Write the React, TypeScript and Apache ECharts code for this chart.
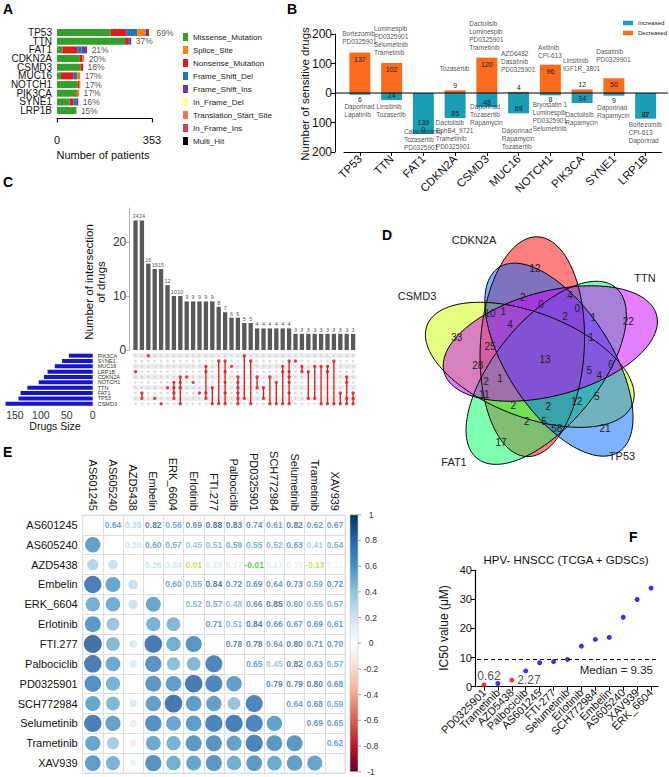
import React, { useEffect, useRef } from "react";
import * as echarts from "echarts";

const FONT = "'Liberation Sans', Arial, Helvetica, sans-serif";

// ---------- A: mutation landscape ----------
const mutGenes = ["TP53", "TTN", "FAT1", "CDKN2A", "CSMD3", "MUC16", "NOTCH1", "PIK3CA", "SYNE1", "LRP1B"];
const mutPercent = [69, 37, 21, 20, 18, 17, 17, 17, 16, 15];
const mutLegend = ["Missense_Mutation", "Splice_Site", "Nonsense_Mutation", "Frame_Shift_Del", "Frame_Shift_Ins", "In_Frame_Del", "Translation_Start_Site", "In_Frame_Ins", "Multi_Hit"];
const missenseMutation = [200, 253, 20, 85, 87, 15, 76, 72, 47, 72];
const nonsenseMutation = [57, 14, 55, 10, 10, 47, 6, 5, 15, 0];
const frameShiftDel = [41, 4, 16, 0, 0, 12, 0, 0, 12, 0];
const spliceSite = [31, 0, 0, 0, 0, 12, 5, 5, 0, 0];
const frameShiftIns = [14, 5, 21, 0, 0, 0, 0, 0, 5, 0];
const inFrameDel = [10, 0, 0, 0, 0, 0, 0, 0, 0, 0];
const translationStartSite = [0, 0, 0, 6, 0, 0, 0, 0, 0, 0];
const inFrameIns = [0, 0, 0, 0, 0, 0, 0, 0, 0, 0];
const multiHit = [0, 0, 0, 0, 0, 0, 0, 0, 0, 0];

// ---------- B: sensitive drugs per mutated gene ----------
const sensGenes = ["TP53", "TTN", "FAT1", "CDKN2A", "CSMD3", "MUC16", "NOTCH1", "PIK3CA", "SYNE1", "LRP1B"];
const decreasedDrugs = [137, 102, 0, 9, 120, 4, 96, 12, 50, 0];
const increasedDrugs = [6, 24, 139, 85, 48, 69, 8, 34, 9, 87];
const decreasedTop = [
  "Bortezomib\nPD0325901", "Luminespib\nPD0325901\nSelumetinib\nTrametinib", "", "Tozasertib",
  "Dactolisib\nLuminespib\nPD0325901\nTrametinib", "AZD6482\nDasatinib\nPD0325901", "Axitinib\nCPI-613",
  "Linsitinib\nIGF1R_3801", "Dasatinib\nPD0329901", "",
];
const increasedTop = [
  "Daporinad\nLapatinib", "Linsitinib\nTozasertib", "Cabozantinib\nTozasertib\nPD0325901",
  "Dactolisib\nEphB4_9721\nTrametinib\nPD0325901", "Daporinad\nTozasertib\nRapamycin",
  "Daporinad\nRapamycin\nTozasertib", "Bryostatin 1\nLuminespib\nPD0325901\nSelumetinib",
  "Dactolisib\nRapamycin", "Daporinad\nRapamycin", "Bortezomib\nCPI-613\nDaporinad",
];
// anchor heights (axis units) of the drug-name blocks
const decreasedNoteAt = [159, 122, 0, 67, 139, 64, 111, 67, 98, 0];
const increasedNoteAt = [-33, -33, -118, -88, -33, -115, -27, -61, -37, -96];

// ---------- C: UpSet of sensitive drug sets ----------
const upsetSets = ["PIK3CA", "SYNE1", "MUC16", "LRP1B", "CDKN2A", "NOTCH1", "TTN", "FAT1", "TP53", "CSMD3"];
const intersectCounts = [24, 24, 16, 15, 15, 12, 10, 10, 9, 9, 9, 9, 9, 8, 7, 6, 6, 5, 5, 4, 4, 4, 4, 4, 4, 3, 3, 3, 3, 3, 3, 3, 3, 3, 3];
const intersectMembers = [
  ["LRP1B"], ["FAT1", "TP53"], ["PIK3CA"], ["TP53"], ["CSMD3"], ["TTN"],
  ["NOTCH1", "TTN", "FAT1", "TP53"], ["CDKN2A", "NOTCH1", "TTN", "CSMD3"], ["CDKN2A"], ["NOTCH1"], ["FAT1"],
  ["MUC16", "LRP1B", "FAT1", "TP53"], ["TTN", "CSMD3"], ["SYNE1", "CSMD3"], ["SYNE1", "LRP1B", "NOTCH1", "FAT1", "CSMD3"],
  ["MUC16"], ["CDKN2A", "NOTCH1", "TTN", "FAT1", "TP53", "CSMD3"], ["PIK3CA", "TP53"], ["SYNE1", "CSMD3"],
  ["CDKN2A", "TTN"], ["TTN", "TP53"], ["CDKN2A", "CSMD3"], ["NOTCH1", "CSMD3"], ["MUC16", "LRP1B", "CSMD3"],
  ["SYNE1", "LRP1B", "CDKN2A", "NOTCH1", "FAT1", "CSMD3"], ["SYNE1"], ["MUC16", "LRP1B"], ["LRP1B", "TP53"],
  ["MUC16", "TP53"], ["MUC16", "CSMD3"], ["MUC16", "LRP1B", "CSMD3"], ["SYNE1", "CSMD3"], ["FAT1", "CSMD3"],
  ["CDKN2A", "NOTCH1", "TP53", "CSMD3"], ["FAT1", "TP53", "CSMD3"],
];
const sizeTicks = [0, 50, 100, 150];

// ---------- D: five-set Venn ----------
const vennSets = ["CDKN2A", "TTN", "TP53", "FAT1", "CSMD3"]; // clockwise from the top
const vennColors = ["#FF0000", "#CC00FF", "#0066FF", "#00FF66", "#CCFF00"];
const vennCounts = [12, 4, 2, 0, 0, 10, 1, 2, 1, 22, 4, 33, 1, 25, 13, 28, 5, 6, 4, 2, 1, 11, 5, 2, 2, 12, 2, 5, 58, 21, 17];

// ---------- E: drug IC50 correlation ----------
const corrDrugs = ["AS601245", "AS605240", "AZD5438", "Embelin", "ERK_6604", "Erlotinib", "FTI.277", "Palbociclib", "PD0325901", "SCH772984", "Selumetinib", "Trametinib", "XAV939"];
const corrUpper = [
  [0.64, 0.35, 0.82, 0.56, 0.69, 0.88, 0.83, 0.74, 0.61, 0.82, 0.62, 0.67],
  [0.26, 0.60, 0.57, 0.45, 0.51, 0.59, 0.55, 0.52, 0.63, 0.41, 0.54],
  [0.26, 0.24, 0.01, 0.19, 0.17, -0.01, 0.17, 0.15, -0.13, 0.11],
  [0.60, 0.55, 0.84, 0.72, 0.69, 0.64, 0.73, 0.59, 0.72],
  [0.52, 0.57, 0.48, 0.66, 0.85, 0.60, 0.55, 0.57],
  [0.71, 0.51, 0.84, 0.66, 0.67, 0.69, 0.61],
  [0.78, 0.78, 0.64, 0.80, 0.71, 0.70],
  [0.65, 0.45, 0.82, 0.63, 0.57],
  [0.79, 0.79, 0.80, 0.68],
  [0.64, 0.68, 0.59],
  [0.69, 0.65],
  [0.62],
];
const colorbarTicks = [1, 0.8, 0.6, 0.4, 0.2, 0, -0.2, -0.4, -0.6, -0.8, -1];

// ---------- F: IC50 ranking ----------
const icDrugs = ["PD0325901", "Trametinib", "AZD5438", "Palbociclib", "AS601245", "FTI-277", "Selumetinib", "Erlotinib", "SCH772984", "Embelin", "AS605240", "XAV939", "ERK_6604"];
const icValues = [0.62, 1.1, 2.27, 5.4, 8.2, 8.6, 9.35, 13.9, 16.2, 16.9, 23.8, 29.9, 33.8];
const icHighlighted = ["PD0325901", "AZD5438"];

// ---------- styling ----------
const mutColor: Record<string, string> = {
  Missense_Mutation: "#33a02c", Splice_Site: "#ff7f00", Nonsense_Mutation: "#e31a1c",
  Frame_Shift_Del: "#1f78b4", Frame_Shift_Ins: "#6a3d9a", In_Frame_Del: "#ffff99",
  Translation_Start_Site: "#f4714b", In_Frame_Ins: "#d6405a", Multi_Hit: "#000000",
};
const RDBU = ["#67001F", "#B2182B", "#D6604D", "#F4A582", "#FDDBC7", "#FFFFFF", "#D1E5F0", "#92C5DE", "#4393C3", "#2166AC", "#053061"];

function hex(c: string) {
  return [1, 3, 5].map((i) => parseInt(c.slice(i, i + 2), 16));
}
function corrColor(v: number) {
  const t = ((v + 1) / 2) * (RDBU.length - 1);
  const i = Math.min(RDBU.length - 2, Math.floor(t));
  const f = t - i;
  const a = hex(RDBU[i]);
  const b = hex(RDBU[i + 1]);
  const m = a.map((x, k) => Math.round(x + (b[k] - x) * f));
  return `rgb(${m[0]},${m[1]},${m[2]})`;
}
function numberColor(v: number) {
  if (v < 0.05) return v >= 0 ? "#bedc1e" : v > -0.05 ? "#1ecf1e" : "#a8dc40";
  return corrColor(v);
}

function textWidth(s: string, size: number) {
  const ctx = document.createElement("canvas").getContext("2d");
  if (!ctx) return s.length * size * 0.5;
  ctx.font = `${size}px ${FONT}`;
  return Math.max(...s.split("\n").map((l) => ctx.measureText(l).width));
}

function vennPolygon(k: number) {
  const C = [543.5, 357.5];
  const off = [-11.2, -10.8];
  const A = 110;
  const B = 52;
  const tilt = (3 * Math.PI) / 180;
  const th = (k * 72 * Math.PI) / 180;
  const ox = off[0] * Math.cos(th) - off[1] * Math.sin(th);
  const oy = off[0] * Math.sin(th) + off[1] * Math.cos(th);
  const ex = C[0] + ox;
  const ey = C[1] + oy;
  const r = th + tilt;
  const c = Math.cos(r);
  const s = Math.sin(r);
  const pts: number[][] = [];
  for (let i = 0; i < 160; i++) {
    const t = (i / 160) * 2 * Math.PI;
    const lx = B * Math.cos(t);
    const ly = A * Math.sin(t);
    pts.push([ex + lx * c - ly * s, ey + lx * s + ly * c]);
  }
  return pts;
}
const vennCountPos = [
  [535, 268], [570, 295], [522.7, 297.3], [541, 304.3], [577.3, 308.3], [490, 313.3], [503.3, 311.7], [565, 316.7],
  [593.3, 317.7], [628.3, 321.7], [510, 324], [456.7, 337.7], [591, 337.3], [490, 346], [545, 359.3], [477.7, 365],
  [589.3, 370], [610.7, 364.3], [599.3, 375], [486, 381.7], [500, 378.3], [484.3, 394.3], [596.7, 396], [513.3, 405],
  [548.3, 406.7], [576.7, 401.7], [526.7, 421], [544, 421.7], [556.7, 428.3], [605, 428.3], [501, 442],
];
const vennLabelPos = [[474, 240], [645, 278], [622, 456], [454, 462], [417, 296]];

function buildOption() {
  const t = (o: any = {}) => ({ fontFamily: FONT, color: "#111", ...o });
  const noAxis = { axisLine: { show: false }, axisTick: { show: false }, axisLabel: { show: false }, splitLine: { show: false } };

  // A
  const stackOrder = ["Missense_Mutation", "Nonsense_Mutation", "Frame_Shift_Del", "Splice_Site", "Frame_Shift_Ins", "In_Frame_Del", "Translation_Start_Site", "In_Frame_Ins", "Multi_Hit"];
  const mutValues: Record<string, number[]> = {
    Missense_Mutation: missenseMutation, Nonsense_Mutation: nonsenseMutation, Frame_Shift_Del: frameShiftDel,
    Splice_Site: spliceSite, Frame_Shift_Ins: frameShiftIns, In_Frame_Del: inFrameDel,
    Translation_Start_Site: translationStartSite, In_Frame_Ins: inFrameIns, Multi_Hit: multiHit,
  };
  const mutTotals = mutGenes.map((_, i) => stackOrder.reduce((s, k) => s + mutValues[k][i], 0));
  const seriesA: any[] = stackOrder.map((name) => ({
    name, type: "bar", stack: "mut", xAxisIndex: 0, yAxisIndex: 0, barWidth: 7,
    itemStyle: { color: mutColor[name] }, data: mutValues[name],
  }));
  seriesA.push({
    type: "scatter", xAxisIndex: 0, yAxisIndex: 0, symbolSize: 1, itemStyle: { color: "rgba(0,0,0,0)" },
    data: mutGenes.map((g, i) => [mutTotals[i], g]),
    label: { show: true, position: "right", distance: 4, formatter: (p: any) => `${mutPercent[p.dataIndex]}%`, ...t({ fontSize: 8.5, color: "#222" }) },
  });

  // B
  const seriesB: any[] = [
    {
      name: "Increased", type: "bar", stack: "sens", xAxisIndex: 1, yAxisIndex: 1, barWidth: 21,
      itemStyle: { color: "#1b9db8" },
      data: increasedDrugs.map((v) => ({
        value: -v,
        label: { position: v >= 20 ? "insideBottom" : "bottom", distance: v >= 100 ? 8 : 1 },
      })),
      label: { show: true, formatter: (p: any) => `${Math.abs(p.value)}`, ...t({ fontSize: 7, color: "#222" }) },
    },
    {
      name: "Decreased", type: "bar", stack: "sens", xAxisIndex: 1, yAxisIndex: 1, barWidth: 21,
      itemStyle: { color: "#fb6b1e" },
      data: decreasedDrugs.map((v) => ({
        value: v,
        label: { position: v > 20 ? "insideTop" : "top", distance: v > 20 ? 3 : 1 },
      })),
      label: { show: true, formatter: (p: any) => `${p.value}`, ...t({ fontSize: 7, color: "#222" }) },
    },
    {
      type: "scatter", xAxisIndex: 1, yAxisIndex: 1, symbolSize: 1, itemStyle: { color: "rgba(0,0,0,0)" }, z: 5,
      data: sensGenes.map((g, i) => ({
        value: [g, decreasedNoteAt[i]],
        label: { formatter: decreasedTop[i], offset: [-textWidth(decreasedTop[i], 6.5) / 2, 0] },
      })).filter((d, i) => decreasedTop[i] !== ""),
      label: { show: true, position: [0, 0], align: "left", verticalAlign: "bottom", lineHeight: 8, ...t({ fontSize: 6.5, color: "#222" }) },
    },
    {
      type: "scatter", xAxisIndex: 1, yAxisIndex: 1, symbolSize: 1, itemStyle: { color: "rgba(0,0,0,0)" }, z: 5,
      data: sensGenes.map((g, i) => ({
        value: [g, increasedNoteAt[i]],
        label: { formatter: increasedTop[i], offset: [-textWidth(increasedTop[i], 6.5) / 2, 0] },
      })),
      label: { show: true, position: [0, 0], align: "left", verticalAlign: "top", lineHeight: 8, ...t({ fontSize: 6.5, color: "#222" }) },
    },
  ];

  // C
  const colIdx = intersectCounts.map((_, i) => String(i + 1));
  const allCells: number[][] = [];
  colIdx.forEach((_, c) => upsetSets.forEach((_, r) => allCells.push([c, r])));
  const memberCells: number[][] = [];
  const memberLines: number[][] = [];
  intersectMembers.forEach((m, c) => {
    const rows = m.map((s) => upsetSets.indexOf(s)).sort((a, b) => a - b);
    rows.forEach((r) => memberCells.push([c, r]));
    if (rows.length > 1) memberLines.push([c, rows[0], rows[rows.length - 1]]);
  });
  const setSizes = upsetSets.map((s) => {
    const i = sensGenes.indexOf(s);
    return decreasedDrugs[i] + increasedDrugs[i];
  });
  const seriesC: any[] = [
    {
      type: "bar", xAxisIndex: 2, yAxisIndex: 2, barWidth: 4.3, itemStyle: { color: "#595959" }, data: intersectCounts,
      label: { show: true, position: "top", distance: 1, ...t({ fontSize: 5.5, color: "#555" }) },
    },
    { type: "scatter", xAxisIndex: 3, yAxisIndex: 3, symbolSize: 2.8, itemStyle: { color: "#d4d4d4" }, data: allCells, silent: true },
    {
      type: "custom", xAxisIndex: 3, yAxisIndex: 3, data: memberLines, z: 3,
      renderItem: (_p: any, api: any) => {
        const a = api.coord([api.value(0), api.value(1)]);
        const b = api.coord([api.value(0), api.value(2)]);
        return { type: "line", shape: { x1: a[0], y1: a[1], x2: b[0], y2: b[1] }, style: { stroke: "#e8191c", lineWidth: 1.3 } };
      },
    },
    { type: "scatter", xAxisIndex: 3, yAxisIndex: 3, symbolSize: 3.4, itemStyle: { color: "#e8191c" }, data: memberCells, z: 4 },
    { type: "bar", xAxisIndex: 4, yAxisIndex: 4, barWidth: 4, itemStyle: { color: "#1414d2" }, data: setSizes },
  ];

  // E
  const circles: any[] = [];
  const numbers: any[] = [];
  corrUpper.forEach((row, i) =>
    row.forEach((v, k) => {
      const j = i + 1 + k;
      numbers.push({ value: [j, i], label: { formatter: v.toFixed(2), color: numberColor(v) } });
      circles.push({ value: [i, j], symbolSize: 19.2 * Math.sqrt(Math.abs(v)), itemStyle: { color: corrColor(v) } });
    })
  );
  const seriesE: any[] = [
    { type: "scatter", xAxisIndex: 5, yAxisIndex: 5, data: circles },
    {
      type: "scatter", xAxisIndex: 5, yAxisIndex: 5, symbolSize: 1, itemStyle: { color: "rgba(0,0,0,0)" }, data: numbers,
      label: { show: true, position: "inside", ...t({ fontSize: 8.5, fontWeight: "bold" }) },
    },
  ];

  // F
  const sorted = [...icValues].sort((a, b) => a - b);
  const median = sorted[Math.floor(sorted.length / 2)];
  const seriesF: any[] = [
    {
      type: "scatter", xAxisIndex: 6, yAxisIndex: 6, symbolSize: 5,
      data: icDrugs.map((d, i) => {
        const hi = icHighlighted.includes(d);
        return {
          value: icValues[i],
          itemStyle: { color: hi ? "#ff0000" : "#0000ff" },
          label: hi
            ? i === 0
              ? { show: true, position: "top", distance: 0, offset: [5, 0], formatter: `${icValues[i]}`, ...t({ fontSize: 12, color: "#222" }) }
              : { show: true, position: "right", distance: 3, formatter: `${icValues[i]}`, ...t({ fontSize: 12, color: "#222" }) }
            : { show: false },
        };
      }),
      markLine: {
        silent: true, symbol: "none",
        lineStyle: { color: "#000", type: [4, 3], width: 1.2 },
        label: { show: true, position: "insideEndBottom", formatter: `Median = ${median}`, ...t({ fontSize: 11.5, color: "#222" }) },
        data: [{ yAxis: median }],
      },
    },
  ];

  const letter = (s: string, x: number, y: number) => ({
    type: "text", x, y, style: { text: s, font: `bold 14px ${FONT}`, fill: "#000", verticalAlign: "middle" },
  });
  const label = (s: string, x: number, y: number, size: number, extra: any = {}) => ({
    type: "text", x, y, ...extra,
    style: { text: s, fontFamily: FONT, fontSize: size, fill: "#111", align: "center", verticalAlign: "middle", ...(extra.style || {}) },
  });

  const graphics: any[] = [
    letter("A", 3, 9), letter("B", 287, 9), letter("C", 3, 182), letter("D", 382, 235), letter("E", 3, 452), letter("F", 629, 537),
    label("Number of patients", 103, 155, 11),
    { ...label("Number of sensitive drugs", 305, 94, 11.5), rotation: Math.PI / 2 },
    { ...label("Number of intersection\nof drugs", 95, 282, 11.5, { style: { lineHeight: 12 } }), rotation: Math.PI / 2 },
    label("Drugs Size", 55, 425.7, 10.5),
    label("HPV- HNSCC (TCGA + GDSCs)", 566, 560, 11.5),
    { ...label("IC50 value (\u03bcM)", 444, 628, 12), rotation: Math.PI / 2 },
  ];
  // Venn fills (drawn in colour order), then outlines
  const fillOrder = [0, 4, 3, 2, 1];
  fillOrder.forEach((k) =>
    graphics.push({ type: "polygon", shape: { points: vennPolygon(k) }, style: { fill: vennColors[k], opacity: 0.5 }, z: 10 })
  );
  [0, 1, 2, 3, 4].forEach((k) =>
    graphics.push({ type: "polygon", shape: { points: vennPolygon(k) }, style: { fill: "none", stroke: "#000", lineWidth: 1 }, z: 11 })
  );
  vennCounts.forEach((n, i) => graphics.push({ ...label(String(n), vennCountPos[i][0], vennCountPos[i][1], 10, { style: { fill: "#222" } }), z: 12 }));
  vennSets.forEach((s, i) => graphics.push(label(s, vennLabelPos[i][0], vennLabelPos[i][1], 11, { style: { fill: "#222" } })));

  // correlation colour bar
  const cbTop = 514.7;
  const cbH = 257;
  graphics.push({
    type: "rect", shape: { x: 350, y: cbTop, width: 8, height: cbH },
    style: {
      fill: new echarts.graphic.LinearGradient(0, 0, 0, 1, RDBU.slice().reverse().map((c, i) => ({ offset: i / (RDBU.length - 1), color: c }))),
      stroke: "#cfcfcf", lineWidth: 0.6,
    },
  });
  colorbarTicks.forEach((v) => {
    const y = cbTop + ((1 - v) / 2) * cbH;
    graphics.push({ type: "line", shape: { x1: 358, y1: y, x2: 361, y2: y }, style: { stroke: "#666", lineWidth: 0.6 } });
    graphics.push(label(String(v), 371, y, 8.5, { style: { fill: "#333" } }));
  });

  return {
    animation: false,
    backgroundColor: "#fff",
    textStyle: { fontFamily: FONT },
    legend: [
      {
        data: mutLegend, orient: "vertical", left: 183, top: 33, itemWidth: 5, itemHeight: 8, itemGap: 5,
        selectedMode: false, icon: "rect", textStyle: t({ fontSize: 8, color: "#222" }), padding: 0,
      },
      {
        data: ["Increased", "Decreased"], orient: "vertical", left: 623, top: 20, itemWidth: 10, itemHeight: 4.5, itemGap: 4,
        selectedMode: false, icon: "rect", textStyle: t({ fontSize: 6, color: "#222" }), padding: 0, itemStyle: { borderWidth: 0 },
      },
    ],
    grid: [
      { left: 57, top: 28.2, width: 95, height: 86.7 },
      { left: 344, top: 34, width: 317.5, height: 118 },
      { left: 132.3, top: 208, width: 224, height: 142 },
      { left: 132.3, top: 353, width: 224, height: 53.4 },
      { left: 4, top: 353, width: 88.7, height: 53.4 },
      { left: 82.7, top: 515, width: 262.3, height: 258, show: true, borderColor: "#dedede", borderWidth: 1, backgroundColor: "transparent" },
      { left: 477, top: 570, width: 181, height: 116.7 },
    ],
    xAxis: [
      {
        gridIndex: 0, type: "value", min: 0, max: 353, interval: 353, offset: 3.5,
        axisLine: { show: true, lineStyle: { color: "#000", width: 1.2 } },
        axisTick: { show: true, length: 4, lineStyle: { color: "#000", width: 1.2 } },
        axisLabel: t({ fontSize: 11, margin: 16 }), splitLine: { show: false },
      },
      {
        gridIndex: 1, type: "category", data: sensGenes, position: "bottom",
        axisLine: { show: true, onZero: false, lineStyle: { color: "#000", width: 1 } },
        axisTick: { show: true, alignWithLabel: true, length: 4, lineStyle: { color: "#000" } },
        axisLabel: t({ rotate: 45, fontSize: 11.5, margin: 5, interval: 0 }),
      },
      { gridIndex: 2, type: "category", data: colIdx, ...noAxis },
      { gridIndex: 3, type: "category", data: colIdx, ...noAxis },
      {
        gridIndex: 4, type: "value", inverse: true, min: 0, max: 171, interval: 50,
        axisLine: { show: false }, axisTick: { show: false }, splitLine: { show: false },
        axisLabel: t({ fontSize: 10.5, margin: 3, color: "#333", showMaxLabel: false, formatter: (v: number) => (sizeTicks.includes(v) ? String(v) : "") }),
      },
      {
        gridIndex: 5, type: "category", data: corrDrugs, position: "top",
        axisLine: { show: false }, axisTick: { show: false },
        axisLabel: t({ rotate: 90, fontSize: 11, margin: 4, interval: 0 }),
        splitLine: { show: true, interval: 0, lineStyle: { color: "#dedede", width: 1 } },
      },
      {
        gridIndex: 6, type: "category", data: icDrugs,
        axisLine: { show: true, lineStyle: { color: "#000", width: 1.2 } },
        axisTick: { show: true, alignWithLabel: true, length: 4, lineStyle: { color: "#000" } },
        axisLabel: t({ rotate: 45, fontSize: 11, margin: 4, interval: 0 }),
      },
    ],
    yAxis: [
      {
        gridIndex: 0, type: "category", data: mutGenes, inverse: true,
        axisLine: { show: false }, axisTick: { show: false }, axisLabel: t({ fontSize: 10, margin: 5, interval: 0, lineHeight: 9 }),
      },
      {
        gridIndex: 1, type: "value", min: -200, max: 200, interval: 100, offset: 9,
        axisLine: { show: true, lineStyle: { color: "#000", width: 1 } },
        axisTick: { show: true, length: 4, lineStyle: { color: "#000" } },
        axisLabel: t({ fontSize: 12, margin: 3, formatter: (v: number) => String(Math.abs(v)) }),
        splitLine: { show: false },
      },
      {
        gridIndex: 2, type: "value", min: 0, max: 26.3, interval: 10, offset: 3,
        axisLine: { show: true, lineStyle: { color: "#b5b5b5" } },
        axisTick: { show: true, length: 3, lineStyle: { color: "#b5b5b5" } },
        axisLabel: t({ fontSize: 12, margin: 3, color: "#333", showMaxLabel: false }),
        splitLine: { show: false },
      },
      {
        gridIndex: 3, type: "category", data: upsetSets, inverse: true,
        axisLine: { show: false }, axisTick: { show: false },
        axisLabel: t({ fontSize: 5.5, color: "#333", align: "left", margin: 34.6, interval: 0 }),
        splitArea: { show: true, interval: 0, areaStyle: { color: ["#efefef", "#ffffff"] } },
      },
      { gridIndex: 4, type: "category", data: upsetSets, inverse: true, ...noAxis },
      {
        gridIndex: 5, type: "category", data: corrDrugs, inverse: true,
        axisLine: { show: false }, axisTick: { show: false },
        axisLabel: t({ fontSize: 11, margin: 5, interval: 0 }),
        splitLine: { show: true, interval: 0, lineStyle: { color: "#dedede", width: 1 } },
      },
      {
        gridIndex: 6, type: "value", min: 0, max: 40, interval: 10, offset: 2,
        axisLine: { show: true, lineStyle: { color: "#000", width: 1.2 } },
        axisTick: { show: true, length: 4, lineStyle: { color: "#000" } },
        axisLabel: t({ fontSize: 11, margin: 3 }),
        splitLine: { show: false },
      },
    ],
    series: [...seriesA, ...seriesB, ...seriesC, ...seriesE, ...seriesF],
    graphic: graphics,
  };
}

export default function App() {
  const ref = useRef<HTMLDivElement>(null);
  useEffect(() => {
    if (!ref.current) return;
    const chart = echarts.init(ref.current, null, { renderer: "svg", width: 669, height: 777 });
    const option: any = buildOption();
    chart.setOption(option);
    // zero line of the sensitivity panel, drawn from the y axis to the panel edge
    const y0 = chart.convertToPixel({ yAxisIndex: 1 }, 0) as number;
    chart.setOption({
      graphic: [
        ...option.graphic,
        { type: "line", shape: { x1: 335, y1: y0, x2: 668, y2: y0 }, style: { stroke: "#000", lineWidth: 1.2 }, z: 20 },
      ],
    });
    return () => chart.dispose();
  }, []);
  return <div ref={ref} style={{ position: "absolute", left: 0, top: 0, width: 669, height: 777, background: "#fff" }} />;
}
